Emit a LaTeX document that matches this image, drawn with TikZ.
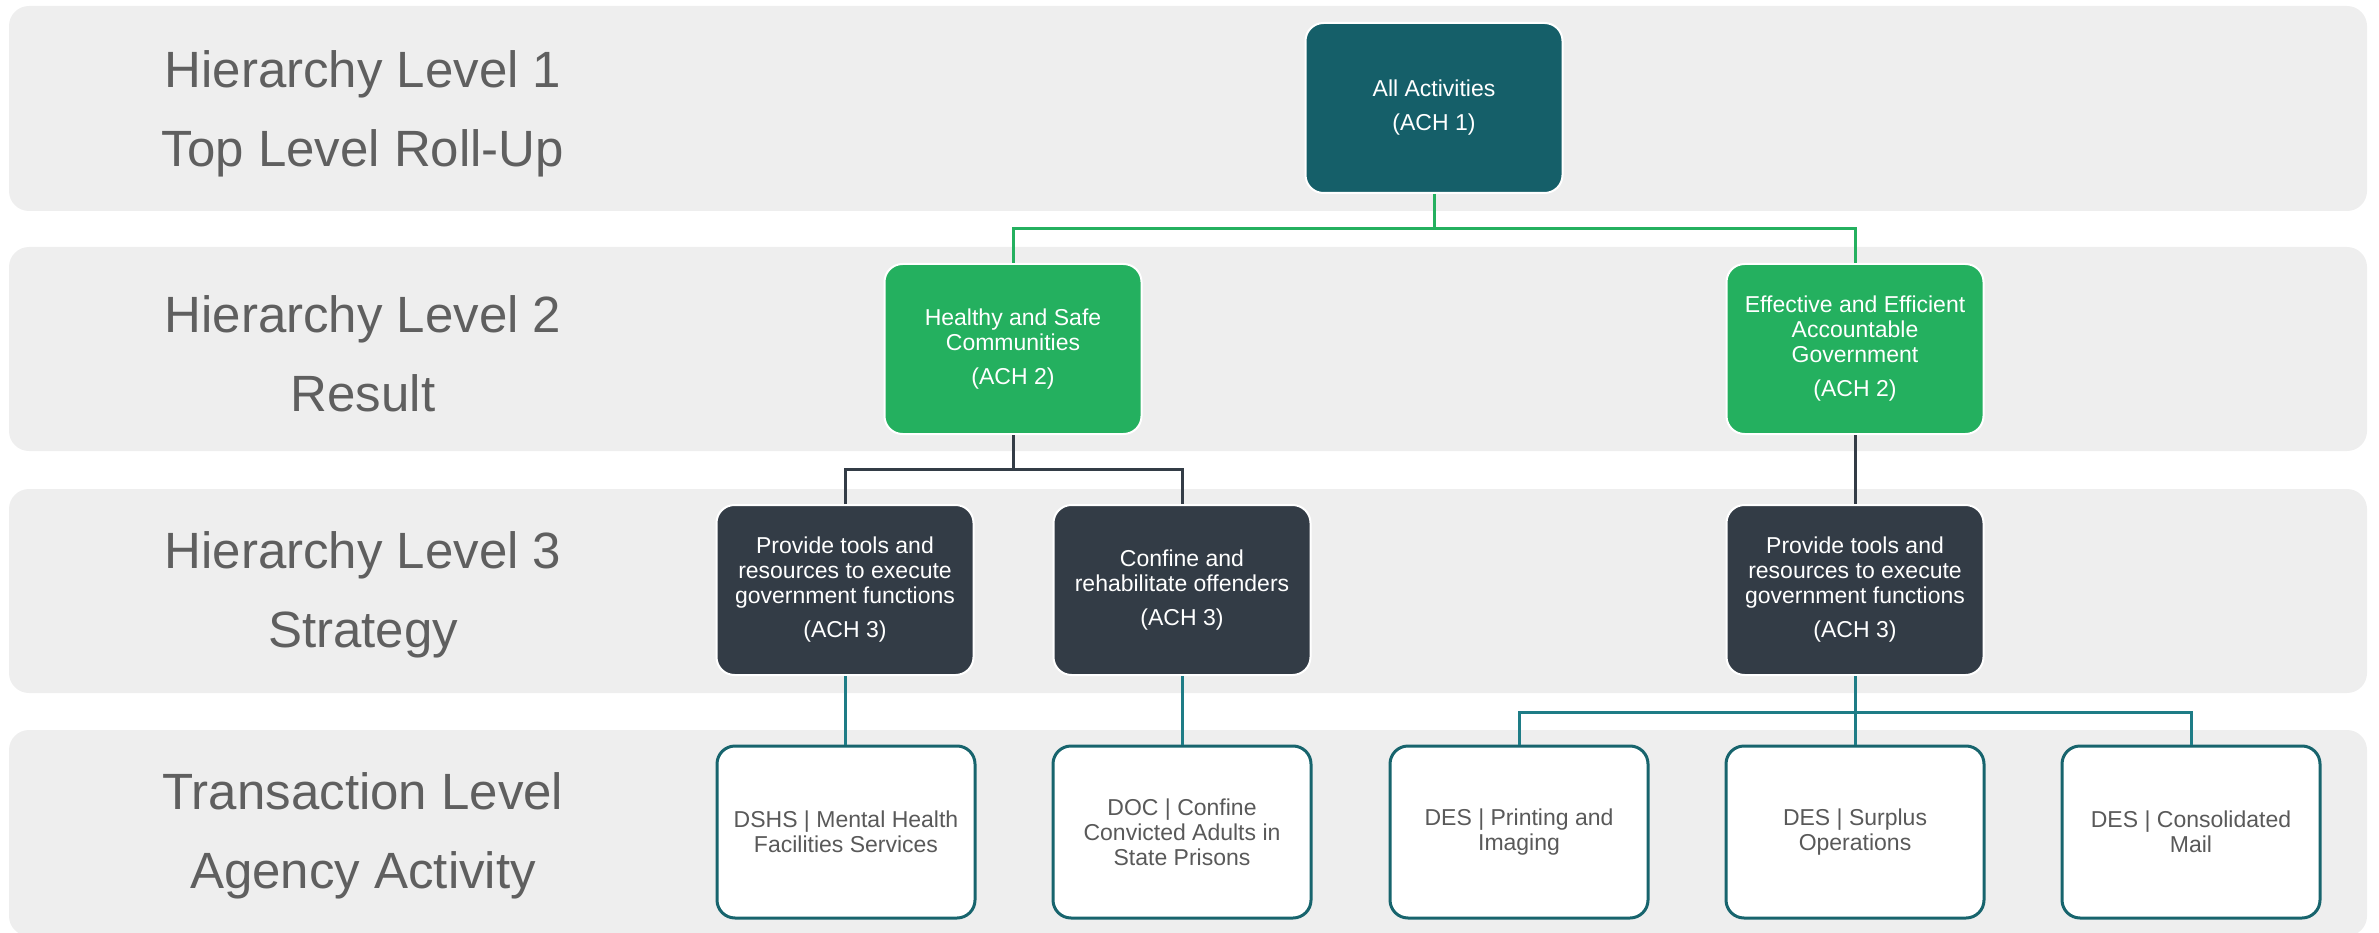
\documentclass[tikz,border=0pt]{standalone}
\usepackage{fontspec}
\setmainfont{Liberation Sans}
\definecolor{bandgray}{HTML}{EEEEEE}
\definecolor{labelgray}{HTML}{5F5F5F}
\definecolor{leaftext}{HTML}{595959}
\definecolor{topteal}{HTML}{155F69}
\definecolor{resgreen}{HTML}{24B05F}
\definecolor{stratdark}{HTML}{333C46}
\definecolor{leafborder}{HTML}{17646D}
\definecolor{tealline}{HTML}{1E7C86}
\begin{document}
\begin{tikzpicture}[x=1pt,y=-1pt,
  band/.style={fill=bandgray, draw=none, rounded corners=20pt},
  levellabel/.style={text=labelgray, align=center, font=\fontsize{51pt}{79pt}\selectfont, inner sep=0pt},
  boxbase/.style={rounded corners=18pt, minimum width=257pt, minimum height=170pt, align=center,
    font=\fontsize{23pt}{25pt}\selectfont, inner sep=0pt},
  topbox/.style={boxbase, fill=topteal, draw=white, line width=2pt, text=white},
  resbox/.style={boxbase, fill=resgreen, draw=white, line width=2pt, text=white},
  stratbox/.style={boxbase, fill=stratdark, draw=white, line width=2pt, text=white},
  leafbox/.style={boxbase, fill=white, draw=leafborder, line width=3pt, text=leaftext, minimum width=258pt, minimum height=172pt},
  greenlink/.style={draw=resgreen, line width=3pt},
  darklink/.style={draw=stratdark, line width=3pt},
  teallink/.style={draw=tealline, line width=3pt}
]
\useasboundingbox (0,0) rectangle (2379,933);
% bands
\fill[band] (9,6) rectangle (2367,211);
\fill[band] (9,247) rectangle (2367,451);
\fill[band] (9,489) rectangle (2367,693);
\fill[band] (9,730) rectangle (2367,936);
% level labels
\node[levellabel] (lab1) at (363,114) {Hierarchy Level 1\\Top Level Roll-Up};
\node[levellabel] (lab2) at (363,354) {Hierarchy Level 2\\Result};
\node[levellabel] (lab3) at (363,595) {Hierarchy Level 3\\Strategy};
\node[levellabel] (lab4) at (363,836) {Transaction Level\\Agency Activity};
% boxes
\node[topbox] (a1) at (1434,108) {All Activities\\[9pt](ACH 1)};
\node[resbox] (h) at (1013,349) {Healthy and Safe\\Communities\\[9pt](ACH 2)};
\node[resbox] (e) at (1855,349) {Effective and Efficient\\Accountable\\Government\\[9pt](ACH 2)};
\node[stratbox] (s1) at (845,590) {Provide tools and\\resources to execute\\government functions\\[9pt](ACH 3)};
\node[stratbox] (s2) at (1182,590) {Confine and\\rehabilitate offenders\\[9pt](ACH 3)};
\node[stratbox] (s3) at (1855,590) {Provide tools and\\resources to execute\\government functions\\[9pt](ACH 3)};
\node[leafbox] (l1) at (846,832) {DSHS | Mental Health\\Facilities Services};
\node[leafbox] (l2) at (1182,832) {DOC | Confine\\Convicted Adults in\\State Prisons};
\node[leafbox] (l3) at (1519,832) {DES | Printing and\\Imaging};
\node[leafbox] (l4) at (1855,832) {DES | Surplus\\Operations};
\node[leafbox] (l5) at (2191,832) {DES | Consolidated\\Mail};
% junctions
\coordinate (j1) at (1434,229);
\coordinate (j2) at (1013,469);
\coordinate (j3) at (1855,712);
% connectors
\draw[greenlink] (a1.south) -- (j1);
\draw[greenlink] (h.north) |- (j1) -| (e.north);
\draw[darklink] (h.south) -- (j2);
\draw[darklink] (s1.north) |- (j2) -| (s2.north);
\draw[darklink] (e.south) -- (s3.north);
\draw[teallink] (s1.south) -- (s1.south |- l1.north);
\draw[teallink] (s2.south) -- (s2.south |- l2.north);
\draw[teallink] (s3.south) -- (j3);
\draw[teallink] (l3.north) |- (j3) -| (l5.north);
\draw[teallink] (j3) -- (l4.north);
\end{tikzpicture}
\end{document}
